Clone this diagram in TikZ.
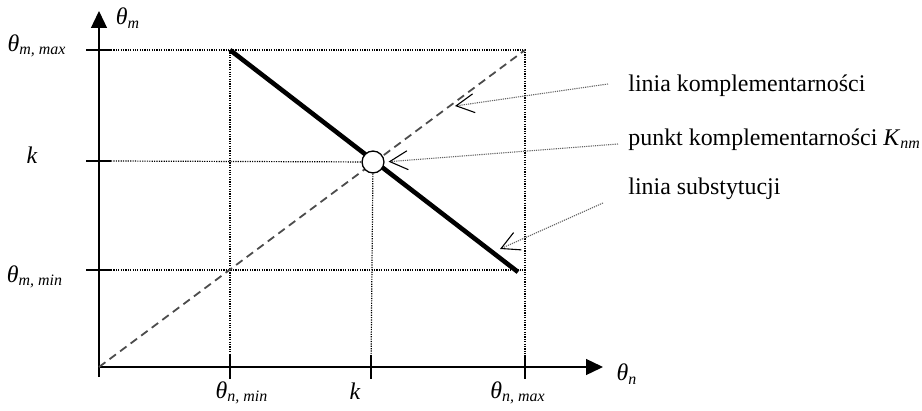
\documentclass[tikz,border=0pt]{standalone}
\usepackage{fontspec}
\setmainfont{Liberation Serif}
\usetikzlibrary{arrows.meta, positioning}

\newcommand{\tht}[1]{\textit{θ}\textsubscript{\textit{#1}}}

\begin{document}
\begin{tikzpicture}[
        x=0.502pt, y=-0.502pt,
        every node/.style={font=\fontsize{12}{14}\selectfont, inner sep=0pt},
        axis/.style={-{Triangle[length=8.5pt, width=8pt]}, line width=0.65pt},
        tickmark/.style={line width=0.65pt},
        guide/.style={dash pattern=on 0.6pt off 0.6pt, line width=0.6pt},
        diag/.style={dash pattern=on 4pt off 2.6pt, line width=0.9pt, black!70},
        subst/.style={line width=2.3pt},
        pointer/.style={-{Straight Barb[length=9pt, width=9.5pt, color=black, line width=0.55pt]}, black!60, dash pattern=on 0.6pt off 0.5pt, line width=0.55pt},
        legend/.style={anchor=base west}
    ]
        \useasboundingbox (0,0) rectangle (922,410);

        % Axes
        \coordinate (O) at (99,367);
        \draw[axis] (99,377) -- (99,11);
        \draw[axis] (O) -- (603,367);
        \foreach \y in {50,161,270} \draw[tickmark] (86,\y) -- (111,\y);
        \foreach \x in {230,371,525} \draw[tickmark] (\x,355) -- (\x,379);

        % Points
        \coordinate (ymaxpt) at (230,50);
        \coordinate (xmaxpt) at (518,272);
        \coordinate (corner) at (525,50);

        % Lines
        \draw[guide] (111,50) -- (corner) -- (525,367);
        \draw[guide] (ymaxpt) -- (230,367);
        \draw[guide] (111,270) -- (525,270);
        \draw[diag] (O) -- (corner);
        \draw[subst] (ymaxpt) -- (xmaxpt);

        % Nodes
        \node[circle, draw, fill=white, line width=0.65pt, minimum size=11pt] (Knm) at (373,162) {};
        \node (thm) at (128,18) {\tht{m}};
        \node (thn) at (627,374) {\tht{n}};
        \node (mmax) at (37,46) {\tht{m, max}};
        \node (mk) at (32,155) {\textit{k}};
        \node (mmin) at (35,277) {\tht{m, min}};
        \node (nmin) at (242,393) {\tht{n, min}};
        \node (nk) at (355,391) {\textit{k}};
        \node (nmax) at (518,393) {\tht{n, max}};
        \node[legend] (lkomp) at (628,91) {linia komplementarności};
        \node[legend] (pkomp) at (628,145) {punkt komplementarności \textit{K}\textsubscript{\textit{nm}}};
        \node[legend] (lsubst) at (628,194) {linia substytucji};

        % Arrows
        \draw[guide] (111,161) -- (Knm);
        \draw[guide] (Knm) -- (371,367);
        \coordinate (t1) at (455,106);
        \coordinate (t3) at (500,249);
        \draw[pointer] ([shift={(-20,-7)}]lkomp.base west) -- (t1);
        \draw[pointer, shorten >=2pt] ([shift={(-10,-1)}]pkomp.base west) -- (Knm.east);
        \draw[pointer] ([shift={(-25,9)}]lsubst.base west) -- (t3);
    \end{tikzpicture}
\end{document}
